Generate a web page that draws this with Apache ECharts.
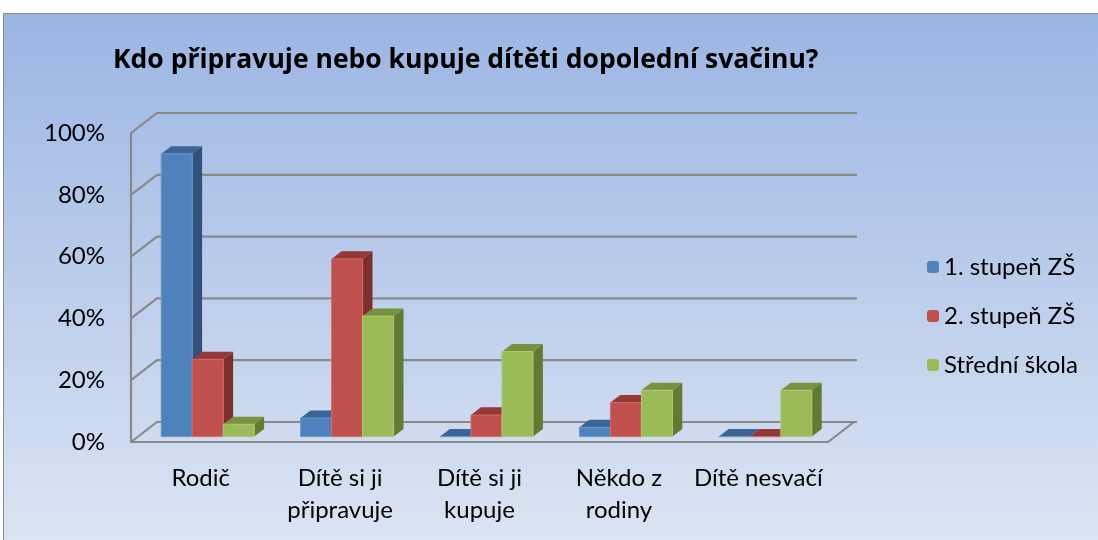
<!DOCTYPE html>
<html><head><meta charset="utf-8">
<script src="https://cdn.jsdelivr.net/npm/echarts@6/dist/echarts.min.js"></script>
<style>html,body{margin:0;padding:0;background:#fff}#c{width:1098px;height:540px}</style>
</head><body><div id="c"></div>
<script>
const categories = ['Rodič', 'Dítě si ji\npřipravuje', 'Dítě si ji\nkupuje', 'Někdo z\nrodiny', 'Dítě nesvačí'];
const seriesNames = ['1. stupeň ZŠ', '2. stupeň ZŠ', 'Střední škola'];
const stupen1 = [91.5, 6, 0, 3, 0];
const stupen2 = [25, 57.5, 7, 11, 0];
const stredni = [4, 39, 27.5, 15, 15];
const yTicks = [0, 20, 40, 60, 80, 100];
const titleText = 'Kdo připravuje nebo kupuje dítěti dopolední svačinu?';

const palette = [
  {front:'#4f81bd', top:'#3c6595', side:'#30517c', edge:'#6b97cc'},
  {front:'#c0504d', top:'#953838', side:'#7d2f2e', edge:'#d06e6b'},
  {front:'#9bbb59', top:'#77923e', side:'#637a34', edge:'#afc978'}
];
const DEPTH = [26, -20];
const BAR_FRONT = 0.27, BAR_THICK = 0.38, BAR_W = 0.2224;
const FONT = 'Lato';

function barRender(si){
  return function(params, api){
    const cat = api.value(0), v = api.value(1);
    const base = api.coord([cat, 0]);
    const top = api.coord([cat, v]);
    const band = api.size([1, 0])[0];
    const bw = band * BAR_W;
    const ox = DEPTH[0]*BAR_FRONT, oy = DEPTH[1]*BAR_FRONT;
    const dx = DEPTH[0]*BAR_THICK, dy = DEPTH[1]*BAR_THICK;
    const x0 = base[0] + ox + (si - 1.5) * bw;
    const x1 = x0 + bw;
    const yb = base[1] + oy, yt = top[1] + oy;
    const c = palette[si];
    return {type:'group', children:[
      {type:'polygon', shape:{points:[[x1,yb],[x1+dx,yb+dy],[x1+dx,yt+dy],[x1,yt]]}, style:{fill:c.side}},
      {type:'polygon', shape:{points:[[x0,yt],[x1,yt],[x1+dx,yt+dy],[x0+dx,yt+dy]]}, style:{fill:c.top}},
      {type:'rect', shape:{x:x0, y:yt, width:bw, height:Math.max(0, yb-yt)}, style:{fill:c.front, stroke:c.edge, lineWidth:1}}
    ]};
  };
}

function frameRender(params, api){
  const cs = params.coordSys;
  const t = api.value(1);
  const p = api.coord([0, t]);
  const xl = cs.x, xr = cs.x + cs.width, y = p[1];
  const children = [
    {type:'polyline', shape:{points:[[xl,y],[xl+DEPTH[0],y+DEPTH[1]],[xr+DEPTH[0]+3,y+DEPTH[1]]]}, style:{stroke:'#898989', lineWidth:2.2, fill:null}}
  ];
  if (t === 0) {
    children.push({type:'line', shape:{x1:xr, y1:y, x2:xr+DEPTH[0], y2:y+DEPTH[1]}, style:{stroke:'#898989', lineWidth:2.2}});
  }
  return {type:'group', children};
}

const allData = [stupen1, stupen2, stredni];
const chart = echarts.init(document.getElementById('c'));
chart.setOption({
  animation:false,
  graphic:[{type:'rect', z:-100, silent:true, shape:{x:3.5, y:13.5, width:1120, height:560},
    style:{fill:new echarts.graphic.LinearGradient(0,0,0,1,[{offset:0,color:'#9bb5e3'},{offset:1,color:'#dfe7f4'}]), stroke:'#8a8a8a', lineWidth:1}}],
  title:{text:titleText, left:108, top:42, textStyle:{fontFamily:'Open Sans', fontWeight:'bold', fontSize:26.5, color:'#000'}},
  legend:{orient:'vertical', left:922, top:250, itemWidth:12, itemHeight:12, itemGap:25,
    data:seriesNames, textStyle:{fontFamily:FONT, fontSize:24, color:'#000', lineHeight:24}},
  grid:{left:131, right:270, top:133, bottom:98},
  xAxis:{type:'category', data:categories,
    axisLine:{show:true, lineStyle:{color:'#898989', width:2.2}}, axisTick:{show:false},
    axisLabel:{fontFamily:FONT, fontSize:24, color:'#000', margin:20, lineHeight:32, interval:0},
    splitLine:{show:false}},
  yAxis:{type:'value', min:0, max:100, interval:20,
    axisLine:{show:true, lineStyle:{color:'#898989', width:2.2}}, axisTick:{show:false},
    splitLine:{show:false},
    axisLabel:{fontFamily:FONT, fontSize:24, color:'#000', margin:26, formatter:v=>v+'%'}},
  series:[
    {type:'custom', name:'frame', z:1, silent:true, clip:false, renderItem:frameRender,
      data:yTicks.map(t=>[0,t]), encode:{x:0, y:1}},
    ...seriesNames.map((n, si)=>({
      type:'custom', name:n, z:3+si, clip:false, renderItem:barRender(si),
      itemStyle:{color:palette[si].front},
      data:allData[si].map((v,i)=>[i,v]), encode:{x:0, y:1}
    }))
  ]
});
</script></body></html>
